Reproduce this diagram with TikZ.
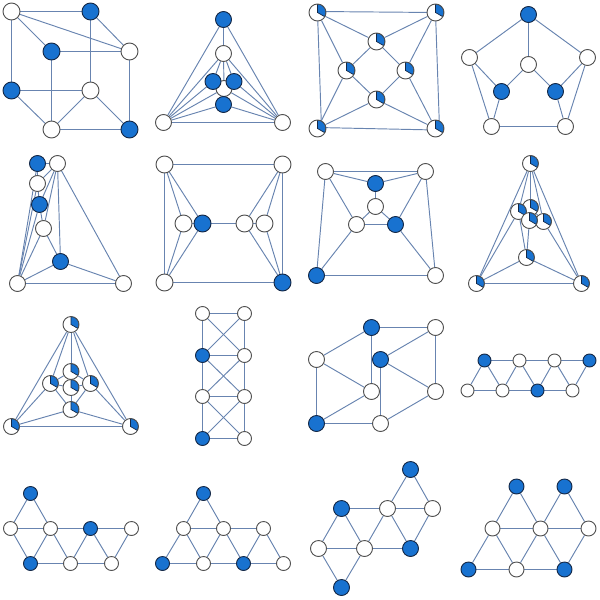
\documentclass[tikz,border=0pt]{standalone}
\usetikzlibrary{backgrounds}
\definecolor{nodeblue}{RGB}{24,114,208}
\definecolor{edgeblue}{RGB}{104,132,176}
\definecolor{ringgrey}{RGB}{80,80,80}
\definecolor{ringdark}{RGB}{20,40,70}
\def\R{8}
\tikzset{
  edge/.style={draw=edgeblue,line width=0.95pt},
  nbase/.style={circle,inner sep=0pt,minimum size=2*\R pt,line width=0.9pt},
  nw/.style={nbase,draw=ringgrey,fill=white},
  nb/.style={nbase,draw=ringdark,fill=nodeblue},
  np/.style={nbase,draw=ringgrey,fill=white,path picture={
    \draw[draw=ringdark,line width=0.7pt,fill=nodeblue] (path picture bounding box.center)
      -- ++(90:\R pt) arc[start angle=90,end angle=-30,radius=\R pt] -- cycle;}}
}
\newcommand\gph[4]{%
  \def\R{#2}%
  \foreach \n/\x/\y/\k in {#3} {\node[\k] (#1\n) at (\x,\y) {};}%
  \begin{pgfonlayer}{background}%
    \foreach \u/\v in {#4} {\draw[edge] (#1\u) -- (#1\v);}%
  \end{pgfonlayer}%
}
\begin{document}
\begin{tikzpicture}[x=1pt,y=-1pt]
\useasboundingbox (-0.5,-0.5) rectangle (599.5,599.5);
% row 1
\gph{A}{8.5}{a/11/11/nw,b/90/11/nb,c/51/51/nb,d/129/51/nw,e/11/90/nb,f/90/90/nw,g/51/129/nw,h/129/129/nb}
 {a/b,a/c,a/d,a/e,b/d,b/f,c/d,c/g,d/h,e/f,e/g,f/g,f/h,g/h}
\gph{B}{8}{t/223/19/nb,n/223/53/nw,c/223.5/88/nw,r/233.5/81/nb,l/212.5/81/nb,m/223/104/nb,p/163/122/nw,q/282/122/nw}
 {t/n,t/p,t/q,n/p,n/q,n/l,n/r,n/c,l/p,r/q,c/p,c/q,c/m,m/p,m/q,p/q}
\gph{C}{8.5}{a/317/12/np,b/435/12/np,c/376/41/np,d/346/70/np,e/405/70/np,f/376/99/np,g/317/128/np,h/435/128/np}
 {a/c,b/c,a/d,b/e,g/d,g/f,h/e,h/f,c/d,c/e,f/d,f/e}
\begin{pgfonlayer}{background}
  \draw[edge] ([yshift=1pt]Ca.center) -- (Cb.center);
  \draw[edge] ([yshift=1pt]Cg.center) -- ([yshift=-1.5pt]Ch.center);
  \draw[edge] (Ca.center) -- ([xshift=4pt]Cg.center);
  \draw[edge] (Cb.center) -- ([xshift=4pt]Ch.center);
\end{pgfonlayer}
\gph{D}{8}{t/528/14/nb,l/469/57/nw,r/587/57/nw,c/528/64/nw,m/501/91/nb,n/555/91/nb,p/491/126/nw,q/565/126/nw}
 {t/l,t/r,t/c,l/m,l/p,r/n,r/q,c/m,c/n,m/p,n/q,p/q}
% row 2
\gph{E}{8}{a/37/163/nb,t/57/163/nw,b/37/183/nw,c/39/204/nb,d/43/228/nw,e/60/261/nb,p/17/283/nw,q/123/283/nw}
 {p/a,p/b,p/c,p/d,p/e,p/q,t/a,t/b,t/c,t/d,t/e,t/q,a/b,b/c,c/d,d/e,q/e}
\gph{F}{8.5}{a/164/164/nw,b/282/164/nw,c/164/282/nw,d/282/282/nb,l/183/223/nw,m/202/223/nb,n/244/223/nw,r/264/223/nw}
 {a/b,a/c,b/d,c/d,a/l,a/m,c/l,c/m,b/n,b/r,d/n,d/r,l/m,m/n,n/r}
\gph{G}{8}{a/325/171/nw,b/425/171/nw,t/375/183/nb,c/375/206/nw,l/356/224/nw,r/395/224/nb,p/316/275/nb,q/435/275/nw}
 {a/b,a/t,b/t,t/c,c/l,c/r,l/r,a/l,b/r,a/p,b/q,l/p,r/q,p/q}
\gph{H}{8}{t/530/163/np,b/530/207/np,d/543/221/np,a/518/211/np,c/529/220/np,e/526/257/np,p/476/283/np,q/581/283/np}
 {t/p,t/q,t/a,t/b,t/d,a/p,a/b,a/c,a/e,d/b,d/c,d/q,b/c,c/e,e/p,e/q,p/q}
% row 3
\gph{I}{8}{t/70.5/324/np,b/70.5/371/np,a/50/383/np,d/90/383/np,c/70.5/387/np,e/70.5/409/np,p/11/426/np,q/130/426/np}
 {t/p,t/q,t/a,t/b,t/d,p/a,p/e,p/q,q/d,q/e,a/b,a/c,a/e,d/b,d/c,d/e,b/c,c/e}
\gph{J}{7}{a/202/313/nw,b/244/313/nw,c/202/355/nb,d/244/355/nw,e/202/396/nw,f/244/396/nw,g/202/438/nb,h/244/438/nw}
 {a/b,c/d,e/f,g/h,a/c,c/e,e/g,b/d,d/f,f/h,a/d,b/c,c/f,d/e,e/h,f/g}
\gph{K}{8}{a/371/327/nb,b/435/327/nw,c/316/359/nw,e/371/391/nw,d/380/359/nb,f/435/391/nw,g/316/423/nb,h/380/423/nw}
 {a/b,a/c,a/e,b/d,b/f,c/e,c/g,d/f,d/h,e/g,f/h,g/h}
\gph{L}{6.5}{a/484/360/nb,b/519/360/nw,c/554/360/nw,d/589/360/nb,e/467/390/nw,f/502/390/nw,g/537/390/nb,h/572/390/nw}
 {a/b,b/c,c/d,e/f,f/g,g/h,e/a,a/f,f/b,b/g,g/c,c/h,h/d}
% row 4
\gph{M}{7}{t/30/493/nb,a/10/528/nw,b/50/528/nw,c/90/528/nb,d/131/528/nw,e/30/563/nb,f/70/563/nw,g/111/563/nw}
 {t/a,t/b,a/b,b/c,c/d,a/e,b/e,b/f,c/f,c/g,d/g,e/f,f/g}
\gph{N}{7}{t/203/493/nb,a/183/528/nw,b/223/528/nw,c/263/528/nw,e/162/563/nb,f/203/563/nw,g/243/563/nb,h/283/563/nw}
 {t/a,t/b,a/b,b/c,a/e,a/f,b/f,b/g,c/g,c/h,e/f,f/g,g/h}
\gph{O}{8}{t/410/469/nb,a/341/508/nb,b/387/508/nw,c/432/508/nw,d/318/548/nw,e/364/548/nw,f/410/548/nb,g/341/587/nb}
 {t/b,t/c,a/b,b/c,a/d,a/e,b/e,b/f,c/f,d/e,e/f,d/g,e/g}
\gph{P}{7.5}{s/516/486/nb,t/564/486/nb,a/492/528/nw,b/540/528/nw,c/588/528/nw,d/468/569/nb,e/516/569/nw,f/564/569/nb}
 {s/a,s/b,t/b,t/c,a/b,b/c,a/d,a/e,b/e,b/f,c/f,d/e,e/f}
\end{tikzpicture}
\end{document}
